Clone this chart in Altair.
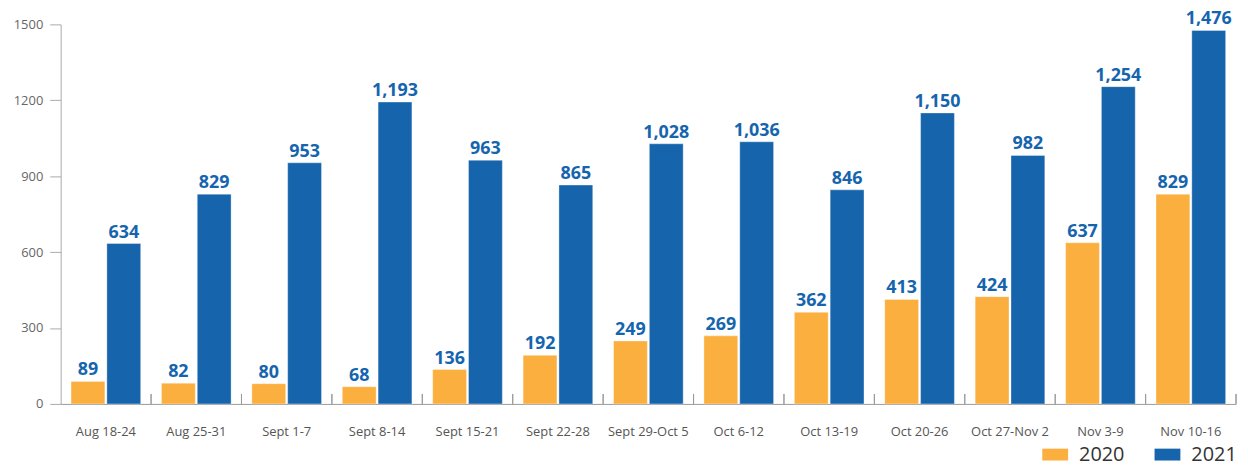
import altair as alt
import pandas as pd

categories = ["Aug 18-24", "Aug 25-31", "Sept 1-7", "Sept 8-14", "Sept 15-21",
              "Sept 22-28", "Sept 29-Oct 5", "Oct 6-12", "Oct 13-19", "Oct 20-26",
              "Oct 27-Nov 2", "Nov 3-9", "Nov 10-16"]
values_2020 = [89, 82, 80, 68, 136, 192, 249, 269, 362, 413, 424, 637, 829]
values_2021 = [634, 829, 953, 1193, 963, 865, 1028, 1036, 846, 1150, 982, 1254, 1476]
series = ["2020", "2021"]
y_ticks = [0, 300, 600, 900, 1200, 1500]

rows = []
for c, a, b in zip(categories, values_2020, values_2021):
    rows.append({"week": c, "year": "2020", "value": a})
    rows.append({"week": c, "year": "2021", "value": b})
df = pd.DataFrame(rows)

W, H = 1183, 382
FONT = "Open Sans"

x_enc = alt.X("week:N", sort=categories,
              scale=alt.Scale(paddingInner=0, paddingOuter=0),
              axis=alt.Axis(title=None, labelAngle=0, ticks=False, domainColor="#999999",
                            labelColor="#555555", labelFontSize=13, labelFont=FONT,
                            labelPadding=22))
xoff = alt.XOffset("year:N", sort=series,
                   scale=alt.Scale(paddingInner=0.056, paddingOuter=0.29))

base = alt.Chart(df)

bars = base.mark_bar(stroke="white", strokeOpacity=0.35, strokeWidth=1).encode(
    x=x_enc,
    xOffset=xoff,
    y=alt.Y("value:Q", scale=alt.Scale(domain=[0, 1500], nice=False),
            axis=alt.Axis(title=None, values=y_ticks, format="d", grid=False,
                          domainColor="#aaaaaa", tickColor="#aaaaaa", tickSize=11,
                          labelPadding=7, labelColor="#666666", labelFontSize=13,
                          labelFont=FONT)),
    color=alt.Color("year:N", sort=series,
                    scale=alt.Scale(domain=series, range=["#FBAF3F", "#1664AB"]),
                    legend=alt.Legend(title=None, orient="none", legendX=988, legendY=420,
                                      direction="horizontal", columns=2,
                                      symbolType="M-1,-0.46H1V0.46H-1Z", symbolSize=676,
                                      symbolStrokeWidth=0, symbolOpacity=1,
                                      labelFontSize=20, labelFont=FONT, labelColor="#333333",
                                      labelOffset=11, columnPadding=30)),
)

labels = base.mark_text(baseline="bottom", dy=-2, fontSize=18, fontWeight="bold",
                        font=FONT, color="#1565AE").encode(
    x=alt.X("week:N", sort=categories),
    xOffset=alt.XOffset("year:N", sort=series),
    y="value:Q",
    text=alt.Text("value:Q", format=","),
)

ticks = base.mark_rule(color="#999999", strokeWidth=1).encode(
    x=alt.X("week:N", sort=categories, bandPosition=1),
    y=alt.value(H),
    y2=alt.value(H - 10),
)

chart = alt.layer(bars, labels, ticks).properties(
    width=W, height=H,
    autosize=alt.AutoSizeParams(type="none"),
    padding={"left": 53, "top": 15, "right": 4, "bottom": 62},
).configure_view(stroke=None)

chart.save("out.html", embed_options={"renderer": "svg", "actions": False})
